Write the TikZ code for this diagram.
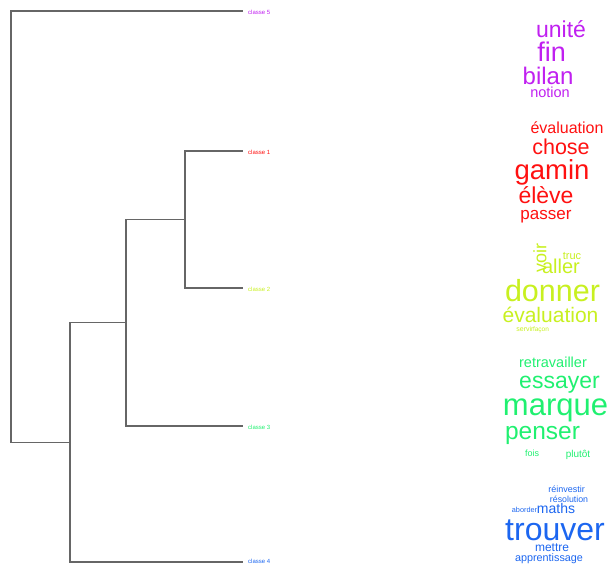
\documentclass[tikz,border=0pt]{standalone}
\usepackage{fontspec}
\setmainfont{Liberation Sans}
\definecolor{cla}{HTML}{FF1010}
\definecolor{clb}{HTML}{C8F020}
\definecolor{clc}{HTML}{20F070}
\definecolor{cld}{HTML}{1C66F0}
\definecolor{cle}{HTML}{C020F0}
\tikzset{
  fs/.style={font=\fontsize{#1}{#1}\selectfont},
  word/.style={inner sep=0pt, anchor=base},
  leaf/.style={inner sep=0pt, anchor=west, fs=6},
  branch/.style={draw=black!60, line width=1.1pt}
}

\begin{document}
\begin{tikzpicture}[x=1pt,y=-1pt]
        \useasboundingbox (0,0) rectangle (609,565);

        % dendrogram
        \coordinate (l5) at (243,11);
        \coordinate (l1) at (243,151);
        \coordinate (l2) at (243,288);
        \coordinate (l3) at (243,426);
        \coordinate (l4) at (243,562);
        \coordinate (n3) at (185,219.5);
        \coordinate (n2) at (126,322.7);
        \coordinate (n1) at (70,442.4);
        \coordinate (r) at (11,226.7);
        \draw[branch] (r) |- (l5);
        \draw[branch] (r) |- (n1);
        \draw[branch] (n1) |- (n2);
        \draw[branch] (n1) |- (l4);
        \draw[branch] (n2) |- (n3);
        \draw[branch] (n2) |- (l3);
        \draw[branch] (n3) |- (l1);
        \draw[branch] (n3) |- (l2);

        \node[leaf, cle] (t5) at (248,12) {classe 5};
        \node[leaf, cla] (t1) at (248,152) {classe 1};
        \node[leaf, clb] (t2) at (248,289) {classe 2};
        \node[leaf, clc] (t3) at (248,427) {classe 3};
        \node[leaf, cld] (t4) at (248,561) {classe 4};

        % classe 5
        \node[word, cle, fs=23] (unite) at (561,37) {unité};
        \node[word, cle, fs=27] (fin) at (551.5,61) {fin};
        \node[word, cle, fs=24] (bilan) at (548,84) {bilan};
        \node[word, cle, fs=14.5] (notion) at (550,97) {notion};

        % classe 1
        \node[word, cla, fs=16] (evala) at (567,133) {évaluation};
        \node[word, cla, fs=21.5] (chose) at (561,154) {chose};
        \node[word, cla, fs=27.5] (gamin) at (552,179) {gamin};
        \node[word, cla, fs=23] (eleve) at (546,203.5) {élève};
        \node[word, cla, fs=17] (passer) at (546,219) {passer};

        % classe 2
        \node[word, clb, fs=18, rotate=90, anchor=center] (voir) at (540,258) {voir};
        \node[word, clb, fs=11] (truc) at (572,259) {truc};
        \node[word, clb, fs=20] (aller) at (561,273.5) {aller};
        \node[word, clb, fs=30.5] (donner) at (552.5,301) {donner};
        \node[word, clb, fs=21] (evalb) at (550.5,322) {évaluation};
        \node[word, clb, fs=7] (servir) at (525,331.5) {servir};
        \node[word, clb, fs=6.5] (facon) at (541,331.5) {façon};

        % classe 3
        \node[word, clc, fs=14.5] (retrav) at (553,367) {retravailler};
        \node[word, clc, fs=23] (essayer) at (559.5,388) {essayer};
        \node[word, clc, fs=31] (marque) at (555.5,415) {marque};
        \node[word, clc, fs=24.5] (penser) at (542.5,439) {penser};
        \node[word, clc, fs=9] (fois) at (532,456) {fois};
        \node[word, clc, fs=10] (plutot) at (578,457) {plutôt};

        % classe 4
        \node[word, cld, fs=9] (reinv) at (566.5,492) {réinvestir};
        \node[word, cld, fs=8.8] (resol) at (569,502) {résolution};
        \node[word, cld, fs=7.3] (aborder) at (524.5,512) {aborder};
        \node[word, cld, fs=14] (maths) at (556,513.5) {maths};
        \node[word, cld, fs=32] (trouver) at (555,540) {trouver};
        \node[word, cld, fs=12] (mettre) at (552,551) {mettre};
        \node[word, cld, fs=10.8] (apprent) at (549,561) {apprentissage};
    \end{tikzpicture}
\end{document}
